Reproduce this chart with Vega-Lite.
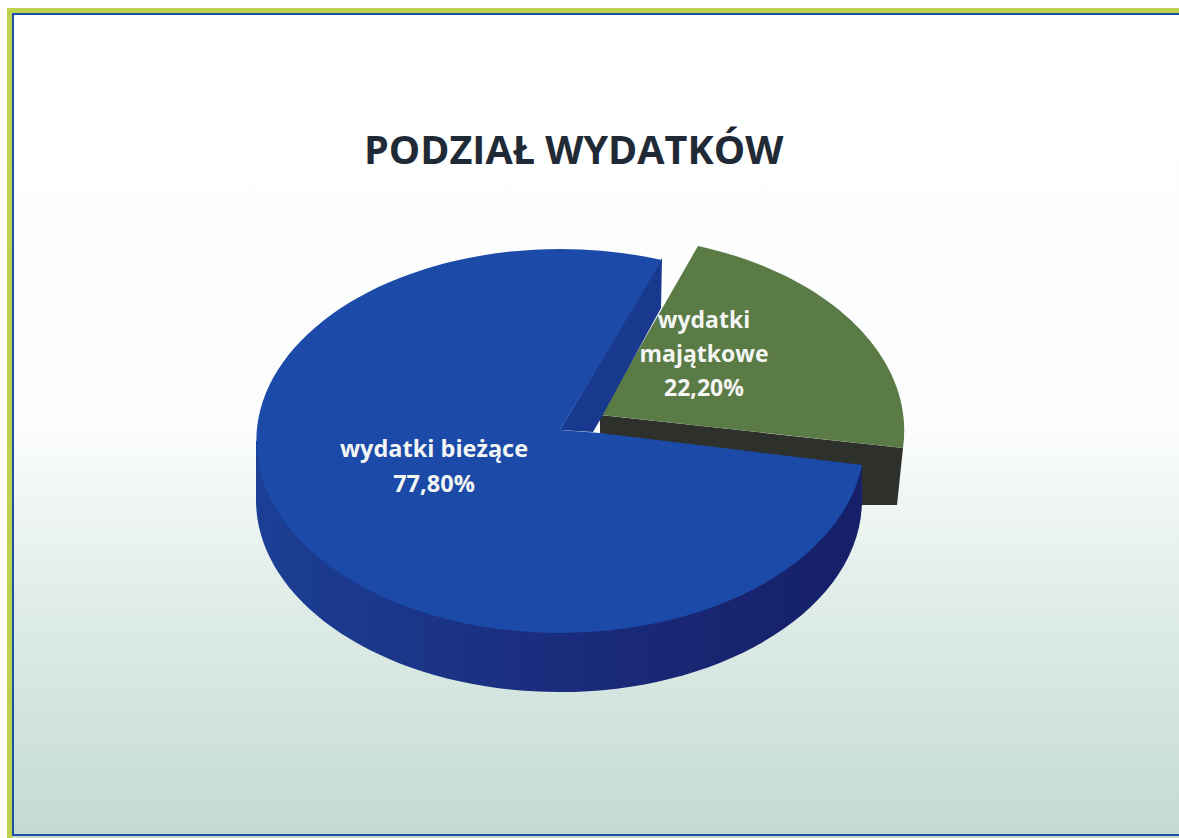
{
  "$schema": "https://vega.github.io/schema/vega-lite/v6.json",
  "description": "3D-style exploded pie. Vega-Lite arcs are always circular, so the tilted elliptical wedges are custom point-mark paths traced from the picture: their geometry is not computed from share.",
  "width": 1169,
  "height": 827,
  "autosize": "none",
  "padding": {"left": 10, "top": 11, "right": 0, "bottom": 0},
  "background": "#ffffff",
  "view": {"stroke": null, "fill": {"gradient": "linear", "x1": 0, "y1": 0, "x2": 0, "y2": 1, "stops": [{"offset": 0, "color": "#ffffff"}, {"offset": 0.5, "color": "#fbfdfc"}, {"offset": 0.72, "color": "#dfecE7"}, {"offset": 1, "color": "#c3dad3"}]}},
  "title": {"text": "PODZIAŁ WYDATKÓW", "font": "Open Sans", "fontSize": 39.5, "fontWeight": "bold", "color": "#1f2a36", "anchor": "start", "frame": "group", "dx": 354, "dy": 155, "offset": -48, "baseline": "bottom"},
  "data": {"values": [
    {"category": "wydatki bieżące", "share": 77.8, "label": "wydatki bieżące\n77,80%"},
    {"category": "wydatki majątkowe", "share": 22.2, "label": "wydatki\nmajątkowe\n22,20%"}
  ]},
  "encoding": {
    "x": {"field": "category", "type": "nominal", "axis": null, "scale": {"type": "point", "domain": ["wydatki bieżące", "wydatki majątkowe"], "range": [424, 694], "padding": 0}},
    "y": {"field": "category", "type": "nominal", "axis": null, "scale": {"type": "point", "domain": ["wydatki bieżące", "wydatki majątkowe"], "range": [456, 343], "padding": 0}}
  },
  "layer": [
    {"mark": {"type": "rect", "fill": null, "stroke": "#bfd24f", "strokeWidth": 6}, "encoding": {"x": {"value": 0}, "y": {"value": 0}, "x2": {"value": 2000}, "y2": {"value": 2000}}},
    {"mark": {"type": "rect", "fill": null, "stroke": "#1b52a8", "strokeWidth": 2}, "encoding": {"x": {"value": 3}, "y": {"value": 3}, "x2": {"value": 2000}, "y2": {"value": 824}}},
    {"transform": [{"filter": "datum.share < 50"}], "mark": {"type": "point", "filled": true, "opacity": 1, "size": 4, "fill": "#2d302b", "shape": "M-104 61 L199 94 L193 151 L146 151 L-104 79 Z"}},
    {"transform": [{"filter": "datum.share < 50"}], "mark": {"type": "point", "filled": true, "opacity": 1, "size": 4, "fill": "#5a7a46", "shape": "M-103 61 L-6 -108 A304 195 0 0 1 199 94 Z"}},
    {"transform": [{"filter": "datum.share > 50"}], "mark": {"type": "point", "filled": true, "opacity": 1, "size": 4, "fill": "#19398f", "shape": "M228 -209 L227 -159 L166 -47 L159 -35 L126 -37 Z"}},
    {"transform": [{"filter": "datum.share > 50"}], "mark": {"type": "point", "filled": true, "opacity": 1, "size": 4, "fill": {"gradient": "linear", "x1": 0, "y1": 0, "x2": 1, "y2": 0, "stops": [{"offset": 0, "color": "#1c3f95"}, {"offset": 0.5, "color": "#1a2c7c"}, {"offset": 1, "color": "#161f68"}]}, "shape": "M-178 -26 L-178 33 A303 192 0 0 0 428 33 L428 -2 Z"}},
    {"transform": [{"filter": "datum.share > 50"}], "mark": {"type": "point", "filled": true, "opacity": 1, "size": 4, "fill": "#1b4aa8", "shape": "M228 -207 A304 192 0 1 0 428 -2 L166 -34 L126 -37 Z"}},
    {"transform": [{"filter": "datum.share > 50"}], "mark": {"type": "text", "font": "Open Sans", "fontSize": 23.5, "fontWeight": "bold", "color": "#f4f6f4", "align": "center", "baseline": "middle", "lineBreak": "\n", "lineHeight": 35, "dy": -17}, "encoding": {"text": {"field": "label"}}},
    {"transform": [{"filter": "datum.share < 50"}], "mark": {"type": "text", "font": "Open Sans", "fontSize": 23, "fontWeight": "bold", "color": "#f4f6f4", "align": "center", "baseline": "middle", "lineBreak": "\n", "lineHeight": 34, "dy": -33}, "encoding": {"text": {"field": "label"}}}
  ]
}
